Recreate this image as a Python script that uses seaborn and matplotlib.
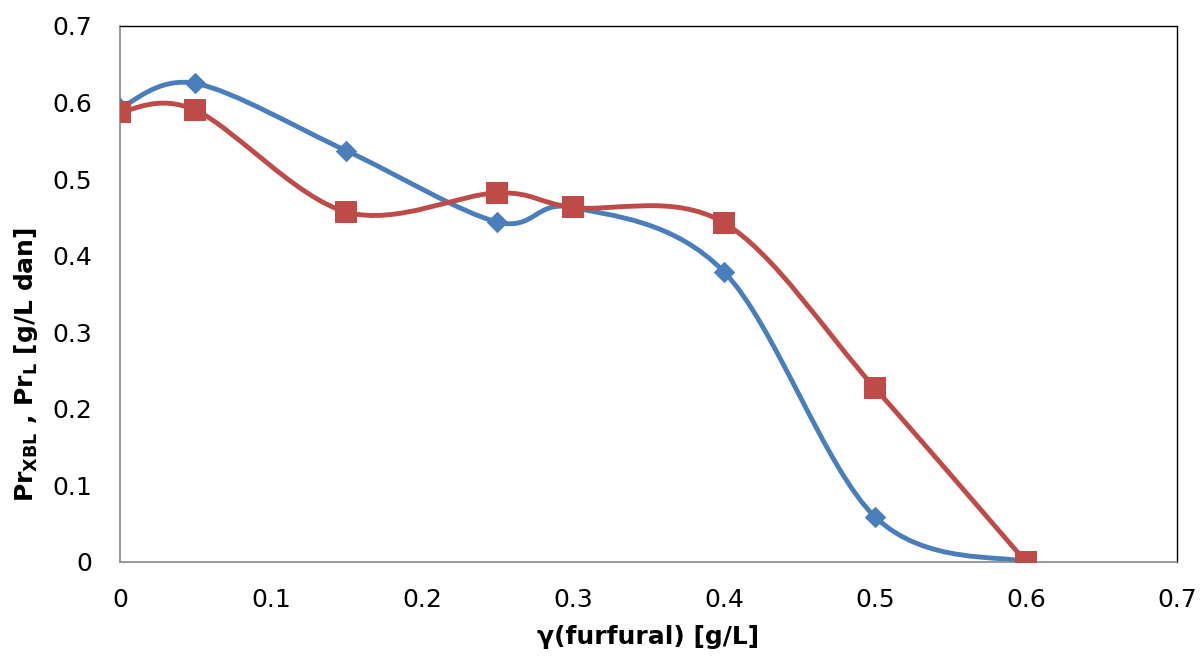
import matplotlib
matplotlib.use("Agg")
import matplotlib.pyplot as plt
from matplotlib.path import Path
from matplotlib.patches import PathPatch
import seaborn as sns
import numpy as np
import pandas as pd

# values
furfural = [0.0, 0.05, 0.15, 0.25, 0.30, 0.40, 0.50, 0.60]
pr_xbl = [0.593, 0.625, 0.537, 0.444, 0.463, 0.379, 0.059, 0.0]
pr_l = [0.588, 0.590, 0.457, 0.482, 0.463, 0.443, 0.227, 0.0]
tick_labels = ["0", "0.1", "0.2", "0.3", "0.4", "0.5", "0.6", "0.7"]

blue = "#4A7EBB"
red = "#BE4B48"

sns.set_theme(style="white")
plt.rcParams['font.family'] = ['DejaVu Sans']
plt.rcParams['mathtext.default'] = 'bf'
plt.rcParams['text.color'] = 'black'
plt.rcParams['axes.labelcolor'] = 'black'
plt.rcParams['xtick.color'] = 'black'
plt.rcParams['ytick.color'] = 'black'


def smooth_path(xs, ys):
    # excel-like smoothed line: cubic bezier segments through the points
    pts = np.column_stack([xs, ys])
    n = len(pts)
    verts = [pts[0]]
    codes = [Path.MOVETO]
    for i in range(n - 1):
        p0 = pts[i - 1] if i > 0 else pts[i]
        p1 = pts[i]
        p2 = pts[i + 1]
        p3 = pts[i + 2] if i + 2 < n else pts[i + 1]
        c1 = p1 + (p2 - p0) / 6.0
        c2 = p2 - (p3 - p1) / 6.0
        verts += [c1, c2, p2]
        codes += [Path.CURVE4] * 3
    return Path(verts, codes)


fig = plt.figure(figsize=(12.02, 6.58), dpi=100)
ax = fig.add_axes([0.0998, 0.1459, 0.8794, 0.8146])

for ys, col in [(pr_xbl, blue), (pr_l, red)]:
    ax.add_patch(PathPatch(smooth_path(furfural, ys), facecolor="none",
                           edgecolor=col, lw=3.5, capstyle="round", zorder=2))

df = pd.DataFrame({"x": furfural * 2, "y": pr_xbl + pr_l,
                   "s": ["XBL"] * len(furfural) + ["L"] * len(furfural)})
sns.scatterplot(data=df[df.s == "XBL"], x="x", y="y", marker="D", s=120,
                color=blue, edgecolor=blue, linewidth=0, ax=ax, zorder=3,
                legend=False)
sns.scatterplot(data=df[df.s == "L"], x="x", y="y", marker="s", s=240,
                color=red, edgecolor=red, linewidth=0, ax=ax, zorder=3,
                legend=False)

ax.set_xlim(0, 0.7)
ax.set_ylim(0, 0.7)
ax.set_xticks(np.arange(0, 0.71, 0.1))
ax.set_yticks(np.arange(0, 0.71, 0.1))
ax.set_xticklabels(tick_labels)
ax.set_yticklabels(tick_labels)
ax.tick_params(axis="both", labelsize=18, length=0)
ax.tick_params(axis="x", pad=19)
ax.tick_params(axis="y", pad=20)

for side in ["left", "bottom"]:
    ax.spines[side].set_color("#868686")
    ax.spines[side].set_linewidth(1.2)
for side in ["top", "right"]:
    ax.spines[side].set_color("black")
    ax.spines[side].set_linewidth(1.0)

ax.set_xlabel("γ(furfural) [g/L]", fontsize=18, fontweight="bold", labelpad=9)
ax.set_ylabel(r"$Pr_{XBL}$ , $Pr_{L}$ [g/L dan]", fontsize=18,
              fontweight="bold")
ax.yaxis.set_label_coords(-0.0755, 0.369)

fig.savefig("out.png", dpi=100)
